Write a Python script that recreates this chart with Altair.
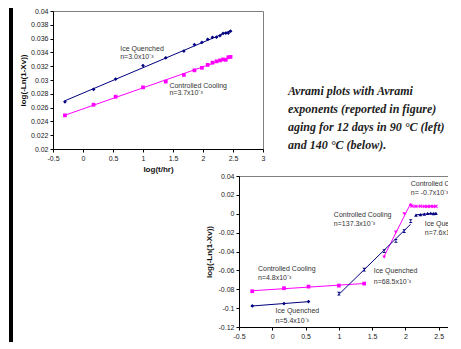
import altair as alt
import pandas as pd

NAVY = "#000080"
MAGENTA = "#FF00FF"
FONT = "Liberation Sans"

# ---------------- upper panel: 90 °C ----------------
top_logt = [-0.301, 0.176, 0.544, 1.0, 1.380, 1.681, 1.857, 1.982, 2.079,
            2.158, 2.225, 2.283, 2.334, 2.380, 2.422, 2.459]
top_ice = [0.02684, 0.02865, 0.03014, 0.03209, 0.03321, 0.03419, 0.03512, 0.03544,
           0.03590, 0.03619, 0.03620, 0.03642, 0.03674, 0.03680, 0.03680, 0.03707]
top_cc = [0.02488, 0.02642, 0.02758, 0.02893, 0.02977, 0.03074, 0.03140, 0.03177,
          0.03219, 0.03251, 0.03270, 0.03284, 0.03298, 0.03293, 0.03330, 0.03335]

# ---------------- lower panel: 140 °C (three fitted stages each) ----------------
low_cc1_t = [-0.301, 0.176, 0.544, 1.0, 1.380]
low_cc1 = [-0.0821, -0.0789, -0.0772, -0.0761, -0.0740]
low_cc2_t = [1.681, 1.857, 1.982, 2.079]
low_cc2 = [-0.0460, -0.0195, 0.0000, 0.0088]
low_cc3_t = [2.100, 2.158, 2.225, 2.283, 2.334, 2.380, 2.422, 2.459]
low_cc3 = [0.0082, 0.0079, 0.0080, 0.0078, 0.0078, 0.0079, 0.0077, 0.0079]
low_iq1_t = [-0.301, 0.176, 0.544]
low_iq1 = [-0.0977, -0.0952, -0.0931]
low_iq2_t = [1.0, 1.380, 1.681, 1.857, 1.982, 2.079]
low_iq2 = [-0.0846, -0.0591, -0.0397, -0.0287, -0.0184, -0.0078]
low_iq3_t = [2.158, 2.225, 2.283, 2.334, 2.380, 2.422, 2.459]
low_iq3 = [-0.0014, -0.0008, -0.0003, 0.0004, 0.0006, 0.0002, 0.0004]

x_ticks = [-0.5, 0, 0.5, 1, 1.5, 2, 2.5, 3]
top_y_ticks = [0.02, 0.022, 0.024, 0.026, 0.028, 0.03, 0.032, 0.034, 0.036, 0.038, 0.04]
low_y_ticks = [-0.12, -0.1, -0.08, -0.06, -0.04, -0.02, 0, 0.02, 0.04]

caption = ["Avrami plots with Avrami", "exponents (reported in figure)",
           "aging for 12 days in 90 °C (left)", "and 140 °C (below)."]

top_note_text = ["Ice Quenched", "n=3.0x10⁻³", "Controlled Cooling", "n=3.7x10⁻³"]
top_note_x = [0.62, 0.62, 1.44, 1.44]
top_note_y = [0.0345, 0.03335, 0.02916, 0.02805]

low_note_text = ["Controlled Cooling", "n=4.8x10⁻³", "Ice Quenched", "n=5.4x10⁻³",
                 "Controlled Cooling", "n=137.3x10⁻³", "Ice Quenched", "n=68.5x10⁻³",
                 "Controlled Cooling", "n= -0.7x10⁻³", "Ice Quenched", "n=7.6x10⁻³"]
low_note_x = [-0.215, -0.215, 0.05, 0.05, 0.925, 0.925, 1.525, 1.525, 2.08, 2.08, 2.29, 2.29]
low_note_y = [-0.0584, -0.068, -0.1027, -0.1133, -0.0018, -0.0113, -0.0609, -0.0722,
              0.0312, 0.0216, -0.0106, -0.0202]

XMARK = "M-1,-0.6L-0.6,-1L0,-0.4L0.6,-1L1,-0.6L0.4,0L1,0.6L0.6,1L0,0.4L-0.6,1L-1,0.6L-0.4,0Z"
HOUR = "M-1,-1L1,-1L-1,1L1,1Z"
mk_domain = ["diamond", "square", "tri", "xmark", "hour", "small"]
mk_range = ["diamond", "square", "triangle-down", XMARK, HOUR, "triangle-up"]


def frame(xs, ys, series, seg, mk):
    return pd.DataFrame({"x": xs, "y": ys, "series": series, "seg": seg, "mk": mk})


top_df = pd.concat([
    frame(top_logt, top_ice, "Ice Quenched", "a", "diamond"),
    frame(top_logt, top_cc, "Controlled Cooling", "b", "square"),
])
low_df = pd.concat([
    frame(low_cc1_t, low_cc1, "Controlled Cooling", "c1", "square"),
    frame(low_cc2_t, low_cc2, "Controlled Cooling", "c2", "tri"),
    frame(low_cc3_t, low_cc3, "Controlled Cooling", "c3", "xmark"),
    frame(low_iq1_t, low_iq1, "Ice Quenched", "i1", "diamond"),
    frame(low_iq2_t, low_iq2, "Ice Quenched", "i2", "hour"),
    frame(low_iq3_t, low_iq3, "Ice Quenched", "i3", "small"),
])

color = alt.Color("series:N", scale=alt.Scale(domain=["Ice Quenched", "Controlled Cooling"],
                                              range=[NAVY, MAGENTA]), legend=None)
shape = alt.Shape("mk:N", scale=alt.Scale(domain=mk_domain, range=mk_range), legend=None)

axis_common = dict(labelExpr="'' + datum.value", labelFontSize=7, labelFont=FONT,
                   labelColor="#222", titleFont=FONT, titleFontSize=8,
                   titleFontWeight="bold", titleColor="#111", tickSize=3,
                   tickColor="black", domainColor="black", grid=False, labelPadding=2,
                   labelFlush=False, labelOverlap=False)

one = pd.DataFrame({"k": [0]})


def rect(x1, x2, y1, y2, opacity=1):
    return alt.Chart(one).mark_rect(color="black", opacity=opacity).encode(
        x=alt.value(x1), x2=alt.value(x2), y=alt.value(y1), y2=alt.value(y2))


def make_panel(df, notes, y_dom, y_ticks, w, h, y_title_pad, x_title_pad, extras):
    X = alt.X("x:Q", scale=alt.Scale(domain=[-0.5, 3], nice=False, zero=False),
              axis=alt.Axis(values=x_ticks, title="log(t/hr)", titlePadding=x_title_pad,
                            **axis_common))
    Y = alt.Y("y:Q", scale=alt.Scale(domain=y_dom, nice=False, zero=False),
              axis=alt.Axis(values=y_ticks, title="log(-Ln(1-Xv))",
                            titlePadding=y_title_pad, **axis_common))
    lines = alt.Chart(df).transform_regression(
        "x", "y", groupby=["series", "seg"]).mark_line(strokeWidth=1).encode(
        x=X, y=Y, color=color, detail="seg:N")
    pts = alt.Chart(df).mark_point(filled=True, size=14, opacity=1).encode(
        x=X, y=Y, color=color, shape=shape)
    nt = alt.Chart(notes).mark_text(align="left", baseline="middle", font=FONT,
                                    fontSize=7, color="#333").encode(
        x=X, y=Y, text="t:N")
    return alt.layer(*extras, lines, pts, nt).properties(width=w, height=h)


H1 = 138
H2 = 151
top_notes = pd.DataFrame({"t": top_note_text, "x": top_note_x, "y": top_note_y})
low_notes = pd.DataFrame({"t": low_note_text, "x": low_note_x, "y": low_note_y})

cap = alt.Chart(one).mark_text(
    text=caption, align="left", baseline="top", font="Liberation Serif",
    fontStyle="italic", fontWeight="bold", fontSize=12, lineHeight=18,
    color="#222").encode(x=alt.value(235), y=alt.value(75))

top = make_panel(top_df, top_notes, [0.02, 0.04], top_y_ticks, 210, H1, 3, 4,
                 [rect(-44, -40, -5, H1 + 24), cap])
bottom = make_panel(low_df, low_notes, [-0.12, 0.04], low_y_ticks, 233, H2, 5, 3,
                    [rect(300, 301, 0, 1, opacity=0)])
spacer = rect(-44, -40, -8, H2 + 80).properties(
    width=151, height=H2, view=alt.ViewBackground(strokeOpacity=0))

row2 = alt.hconcat(spacer, bottom, spacing=0)
chart = alt.vconcat(top, row2, spacing=-6).properties(
    padding={"left": 0, "top": -3, "right": -93, "bottom": -65}).configure_view(
    stroke="#808080", strokeWidth=1)

chart.save("out.html", embed_options={"renderer": "svg", "actions": False})
